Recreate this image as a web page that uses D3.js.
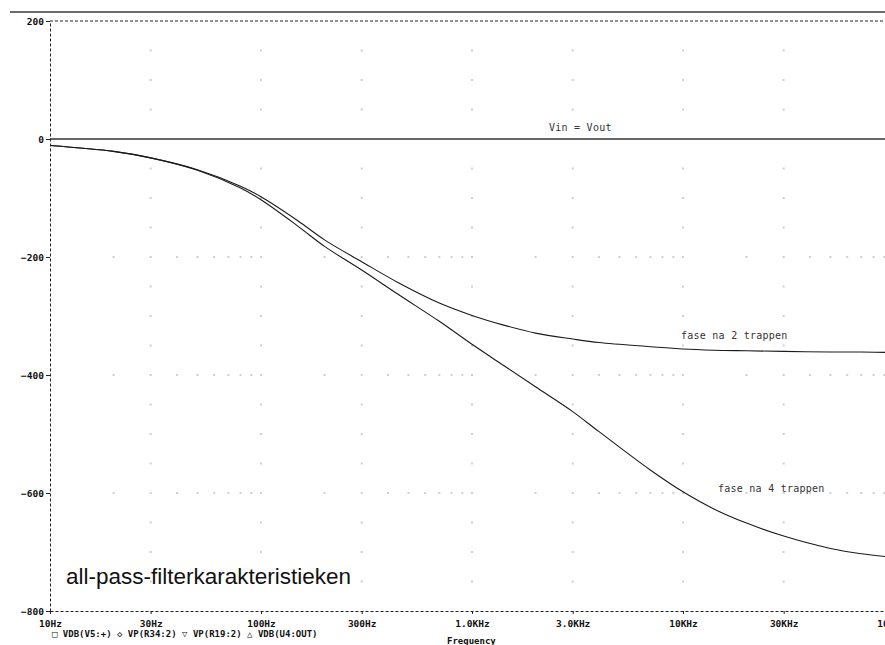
<!DOCTYPE html>
<html>
<head>
<meta charset="utf-8">
<script src="https://cdn.jsdelivr.net/npm/d3@7"></script>
<style>
  body { margin: 0; background: #fff; }
  svg { display: block; }
</style>
</head>
<body>
<svg class="probe" width="885" height="645"></svg>
<script>
// phase (degrees) at these frequencies (Hz)
let freqs = [10, 20, 30, 50, 80, 100, 150, 200, 300, 450, 700, 1000, 1400, 2000, 3000, 4000, 7000, 10000, 14000, 20000, 30000, 50000, 70000, 100000];
let phase2 = [-11, -21, -32, -52, -80, -98, -139, -171, -208, -244, -278, -299, -315, -329, -339, -345, -352, -356, -358, -359, -360, -361, -361, -362];
let phase4 = [-11, -21, -32, -53, -83, -103, -148, -182, -222, -264, -309, -348, -383, -420, -462, -496, -561, -598, -627, -651, -673, -694, -703, -709];

let xTickFreqs = [10, 30, 100, 300, 1000, 3000, 10000, 30000, 100000];
let xTickLabels = ['10Hz', '30Hz', '100Hz', '300Hz', '1.0KHz', '3.0KHz', '10KHz', '30KHz', '100KHz'];
let yTicks = [200, 0, -200, -400, -600, -800];

let legendItems = ['\u25A1 VDB(V5:+)', '\u25C7 VP(R34:2)', '\u25BD VP(R19:2)', '\u25B3 VDB(U4:OUT)'];
let refLine = 0;
let refLabel = 'Vin = Vout';
let traceLabels = ['fase na 2 trappen', 'fase na 4 trappen'];
let title = 'all-pass-filterkarakteristieken';

let monoFont = '"DejaVu Sans Mono", "Liberation Mono", monospace';

let svg = d3.select('svg.probe');

let x = d3.scaleLog().domain([10, 100000]).range([50, 894]);
let y = d3.scaleLinear().domain([-800, 200]).range([611, 21]);

// top frame line
svg.append('line')
  .attr('x1', 10).attr('x2', 885)
  .attr('y1', 12).attr('y2', 12)
  .style('stroke', '#3a3a3a')
  .style('stroke-width', '1.3px');

// grid dots: columns on labelled freqs, rows on the major phase levels
let colFreqs = xTickFreqs.slice(1, -1);
let rowLevels = d3.range(-750, 200, 50).filter(v => v != 0 && v % 200 != 0);
let minorFreqs = [];
[10, 100, 1000, 10000].forEach(dec => {
  for (let m = 2; m <= 10; m++) minorFreqs.push(dec * m);
});

let dots = [];
colFreqs.forEach(f => rowLevels.forEach(v => dots.push([f, v])));
[-200, -400, -600].forEach(v => minorFreqs.forEach(f => dots.push([f, v])));

svg.append('g')
  .selectAll('rect.dot')
  .data(dots)
  .enter()
  .append('rect')
  .attr('class', 'dot')
  .attr('x', d => x(d[0]) - 1)
  .attr('y', d => y(d[1]) - 1)
  .attr('width', 2)
  .attr('height', 2)
  .style('fill', '#cfcfcf');

// axes
let xAxis = svg.append('g')
  .attr('transform', `translate(0,${y(-800)})`)
  .call(d3.axisBottom(x)
    .tickValues(xTickFreqs)
    .tickFormat((d, i) => xTickLabels[i])
    .tickSize(3)
    .tickSizeOuter(0)
    .tickPadding(6));

let yAxis = svg.append('g')
  .attr('transform', `translate(${x(10)},0)`)
  .call(d3.axisLeft(y)
    .tickValues(yTicks)
    .tickSize(4)
    .tickSizeOuter(0)
    .tickPadding(2));

[xAxis, yAxis].forEach(ax => {
  ax.select('.domain')
    .style('stroke', '#222')
    .style('stroke-dasharray', '3,2');
  ax.selectAll('.tick line').style('stroke', '#222');
  ax.selectAll('.tick text')
    .style('font-family', monoFont)
    .style('font-weight', 'bold')
    .style('font-size', '9.5px')
    .style('fill', '#111');
});

// dashed top border
svg.append('line')
  .attr('x1', x(10)).attr('x2', 885)
  .attr('y1', y(200)).attr('y2', y(200))
  .style('stroke', '#222')
  .style('stroke-dasharray', '3,2');

// Vin = Vout reference
svg.append('line')
  .attr('x1', x(10)).attr('x2', 885)
  .attr('y1', y(refLine)).attr('y2', y(refLine))
  .style('stroke', '#333')
  .style('stroke-width', '1.3px');

// traces
let line = d3.line()
  .x(d => x(d[0]))
  .y(d => y(d[1]))
  .curve(d3.curveCatmullRom.alpha(0.5));

let traces = [phase2, phase4].map(p => freqs.map((f, i) => [f, p[i]]));

svg.selectAll('path.trace')
  .data(traces)
  .enter()
  .append('path')
  .attr('class', 'trace')
  .attr('d', line)
  .style('fill', 'none')
  .style('stroke', '#1a1a1a')
  .style('stroke-width', '1.1px');

// annotations
let notes = [
  {text: refLabel, x: 549, y: 131},
  {text: traceLabels[0], x: 681, y: 339},
  {text: traceLabels[1], x: 718, y: 492}
];

svg.selectAll('text.note')
  .data(notes)
  .enter()
  .append('text')
  .attr('class', 'note')
  .attr('x', d => d.x)
  .attr('y', d => d.y)
  .text(d => d.text)
  .style('font-family', monoFont)
  .style('font-size', '10px')
  .style('letter-spacing', '0.25px')
  .style('fill', '#333');

svg.append('text')
  .attr('x', 66)
  .attr('y', 584)
  .text(title)
  .style('font-family', '"Liberation Sans", Arial, sans-serif')
  .style('font-size', '22.5px')
  .style('fill', '#111');

// legend row under the axis
svg.append('text')
  .attr('x', 52)
  .attr('y', 637)
  .text(legendItems.join(' '))
  .style('font-family', monoFont)
  .style('font-weight', 'bold')
  .style('font-size', '9px')
  .style('fill', '#111');

svg.append('text')
  .attr('x', 447)
  .attr('y', 644)
  .text('Frequency')
  .style('font-family', monoFont)
  .style('font-weight', 'bold')
  .style('font-size', '9px')
  .style('fill', '#111');
</script>
</body>
</html>
